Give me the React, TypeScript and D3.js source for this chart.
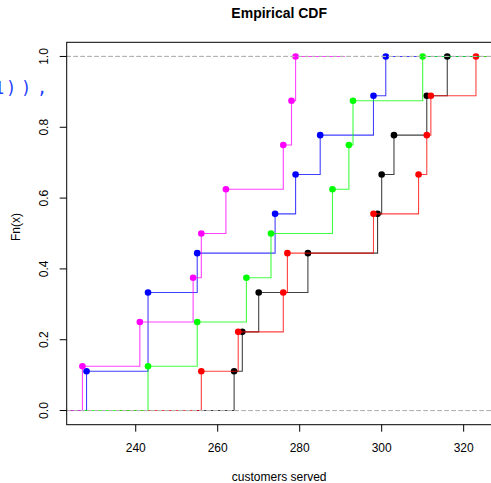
import React from "react";
import * as d3 from "d3";

// ---- data (customers served) ----
const blackValues = [264, 266, 270, 282, 299, 300, 303, 311, 316];
const redValues = [256, 265, 276, 277, 298, 309, 311, 312, 323];
const blueValues = [228, 243, 243, 255, 274, 279, 285, 298, 301];
const greenValues = [243, 255, 267, 273, 288, 292, 293, 310];
const magentaValues = [227, 241, 254, 256, 262, 276, 278, 279];

const seriesNames = ["black", "red", "blue", "green", "magenta"];
const seriesColors = ["#000000", "#ff0000", "#0000ff", "#00ff00", "#ff00ff"];
const seriesData = [blackValues, redValues, blueValues, greenValues, magentaValues];

const xTicks = [240, 260, 280, 300, 320];
const yTicks = [0, 0.2, 0.4, 0.6, 0.8, 1.0];
const yTickLabels = ["0.0", "0.2", "0.4", "0.6", "0.8", "1.0"];

const strayChars = ["1", ")", ")", ","];

const W = 491;
const H = 483;
const plotLeft = 66.7;
const plotRight = 491.7;
const plotTop = 42.3;
const plotBottom = 424.7;

function ecdf(values: number[]) {
  const sorted = [...values].sort((a, b) => a - b);
  const n = sorted.length;
  const knots = Array.from(new Set(sorted));
  const levels = knots.map((k) => sorted.filter((v) => v <= k).length / n);
  const rx = [knots[0], knots[knots.length - 1]];
  const diffs = knots.slice(1).map((k, i) => k - knots[i]);
  const dr = Math.max(0.08 * (rx[1] - rx[0]), d3.median(diffs) as number);
  return { knots, levels, start: rx[0] - 2 * dr, end: rx[1] + 2 * dr };
}

export default function App() {
  const all = seriesData.flat();
  const [mn, mx] = d3.extent(all) as [number, number];
  const pad = 0.04 * (mx - mn);
  const x = d3.scaleLinear().domain([mn - pad, mx + pad]).range([plotLeft, plotRight]);
  const y = d3.scaleLinear().domain([-0.04, 1.04]).range([plotBottom, plotTop]);

  const line = d3
    .line<[number, number]>()
    .x((d) => x(d[0]))
    .y((d) => y(d[1]))
    .curve(d3.curveStepAfter);

  const font = "'Liberation Sans', Arial, Helvetica, sans-serif";
  const strayX = [-6, 6, 21, 37];

  return (
    <svg
      width={W}
      height={H}
      style={{ position: "absolute", left: 0, top: 0, background: "#fff" }}
      fontFamily={font}
    >
      <defs>
        <clipPath id="plotclip">
          <rect x={plotLeft} y={plotTop} width={plotRight - plotLeft} height={plotBottom - plotTop} />
        </clipPath>
      </defs>
      <rect x={0} y={0} width={W} height={H} fill="#fff" />

      {/* stray code text at left edge */}
      <text y={94} fontFamily="'DejaVu Sans Mono', monospace" fontSize={17} fill="#1f3fff">
        {strayChars.map((c, i) => (
          <tspan key={i} x={strayX[i]}>
            {c}
          </tspan>
        ))}
      </text>

      <g clipPath="url(#plotclip)">
        {seriesData.map((vals, si) => {
          const e = ecdf(vals);
          const pts: [number, number][] = [[e.start, 0]];
          e.knots.forEach((k, i) => pts.push([k, e.levels[i]]));
          pts.push([e.end, 1]);
          return (
            <g key={seriesNames[si]}>
              <path d={line(pts) || ""} fill="none" stroke={seriesColors[si]} strokeWidth={1.1} strokeOpacity={0.75} />
              {e.knots.map((k, i) => (
                <circle key={i} cx={x(k)} cy={y(e.levels[i])} r={3.3} fill={seriesColors[si]} />
              ))}
              {[0, 1].map((h) => (
                <line
                  key={h}
                  x1={plotLeft}
                  x2={plotRight}
                  y1={y(h)}
                  y2={y(h)}
                  stroke="#b3b3b3"
                  strokeWidth={1}
                  strokeDasharray="4,3"
                />
              ))}
            </g>
          );
        })}
      </g>

      {/* box */}
      <rect
        x={plotLeft}
        y={plotTop}
        width={plotRight - plotLeft}
        height={plotBottom - plotTop}
        fill="none"
        stroke="#000"
        strokeWidth={1}
      />

      {/* x axis */}
      {xTicks.map((t) => (
        <g key={t}>
          <line x1={x(t)} x2={x(t)} y1={plotBottom} y2={plotBottom + 7} stroke="#000" />
          <text x={x(t)} y={452} fontSize={12} textAnchor="middle" fill="#000">
            {t}
          </text>
        </g>
      ))}
      {/* y axis */}
      {yTicks.map((t, i) => (
        <g key={t}>
          <line x1={plotLeft - 7} x2={plotLeft} y1={y(t)} y2={y(t)} stroke="#000" />
          <text
            transform={`translate(${47.5},${y(t)}) rotate(-90)`}
            fontSize={12}
            textAnchor="middle"
            fill="#000"
          >
            {yTickLabels[i]}
          </text>
        </g>
      ))}

      <text x={(plotLeft + plotRight) / 2} y={18} fontSize={14} fontWeight="bold" textAnchor="middle" fill="#000">
        Empirical CDF
      </text>
      <text x={(plotLeft + plotRight) / 2} y={481} fontSize={12} textAnchor="middle" fill="#000">
        customers served
      </text>
      <text transform={`translate(${20},${227}) rotate(-90)`} fontSize={12} textAnchor="middle" fill="#000">
        Fn(x)
      </text>
    </svg>
  );
}
